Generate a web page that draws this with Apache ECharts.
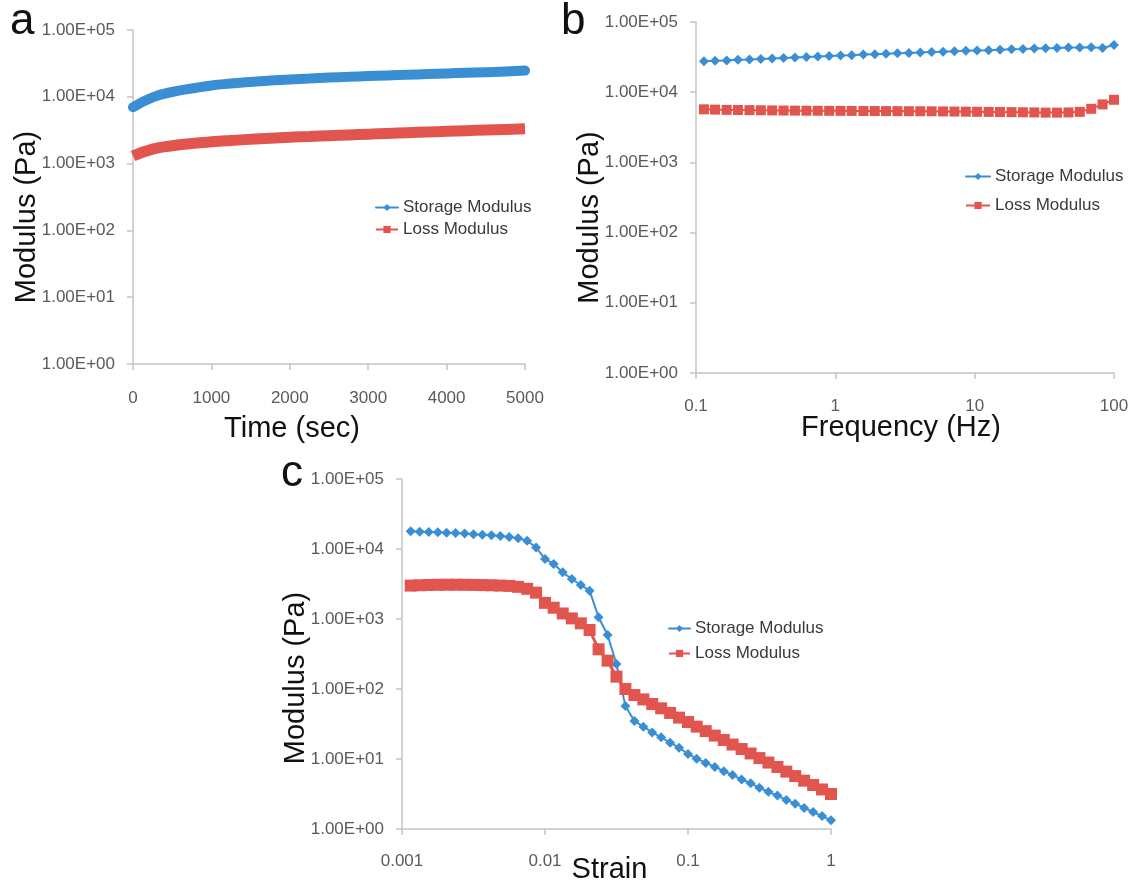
<!DOCTYPE html>
<html>
<head>
<meta charset="utf-8">
<script src="https://cdn.jsdelivr.net/npm/echarts@6/dist/echarts.min.js"></script>
<style>
  html, body { margin: 0; padding: 0; background: #fff; }
  #chart { width: 1136px; height: 886px; }
</style>
</head>
<body>
<div id="chart"></div>
<script>
// panel a : time sweep
var timeSec = [0, 250, 500, 750, 1000, 1250, 1500, 1750, 2000, 2250, 2500, 2750, 3000, 3250, 3500, 3750, 4000, 4250, 4500, 4750, 5000];
var timeStorage = [7000, 9800, 11800, 13300, 14800, 15800, 16700, 17500, 18200, 18800, 19400, 19900, 20400, 20900, 21400, 21900, 22400, 22900, 23400, 23900, 24700];
var timeLoss = [1300, 1650, 1850, 2000, 2120, 2220, 2310, 2400, 2480, 2550, 2620, 2690, 2760, 2830, 2900, 2970, 3040, 3110, 3180, 3250, 3330];

// panel b : frequency sweep
var freqHz = [0.114, 0.137, 0.166, 0.200, 0.242, 0.292, 0.352, 0.425, 0.513, 0.620, 0.748, 0.903, 1.09, 1.31, 1.59, 1.92, 2.31, 2.79, 3.37, 4.07, 4.91, 5.93, 7.16, 8.64, 10.4, 12.6, 15.2, 18.4, 22.2, 26.8, 32.3, 39.0, 47.1, 56.8, 68.6, 82.8, 100];
var freqStorage = [27500, 28000, 28400, 29000, 29300, 29800, 30300, 30700, 31300, 31800, 32200, 32800, 33300, 33700, 34300, 34800, 35200, 35800, 36300, 36700, 37300, 37800, 38200, 38800, 39300, 39700, 40300, 40800, 41200, 41800, 42300, 42700, 43200, 43500, 43700, 42500, 47000];
var freqLoss = [5700, 5650, 5600, 5580, 5550, 5530, 5500, 5480, 5460, 5450, 5440, 5430, 5420, 5410, 5400, 5390, 5380, 5370, 5360, 5350, 5340, 5320, 5300, 5280, 5260, 5240, 5220, 5200, 5180, 5150, 5120, 5120, 5150, 5250, 5800, 6700, 7800];

// panel c : strain sweep
var strain = [0.00115, 0.00133, 0.00154, 0.00178, 0.00205, 0.00237, 0.00274, 0.00316, 0.00365, 0.00422, 0.00487, 0.00562, 0.00649, 0.00750, 0.00866, 0.0100,
  0.0115, 0.0133, 0.0154, 0.0178, 0.0205, 0.0237, 0.0274, 0.0316, 0.0365, 0.0422, 0.0487, 0.0562, 0.0649, 0.0750, 0.0866, 0.100,
  0.115, 0.133, 0.154, 0.178, 0.205, 0.237, 0.274, 0.316, 0.365, 0.422, 0.487, 0.562, 0.649, 0.750, 0.866, 1.00];
var strainStorage = [17900, 17700, 17500, 17300, 17100, 16900, 16600, 16300, 16000, 15700, 15300, 14900, 14300, 13100, 10500, 7200,
  6100, 4640, 3730, 3060, 2540, 1060, 590, 228, 57, 35, 29, 24, 20.4, 17.1, 14.5, 11.8,
  10.1, 8.8, 7.7, 6.7, 5.9, 5.1, 4.5, 3.9, 3.4, 3.0, 2.6, 2.3, 2.0, 1.75, 1.53, 1.33];
var strainLoss = [3000, 3030, 3060, 3080, 3090, 3090, 3080, 3070, 3050, 3030, 3000, 2970, 2880, 2700, 2380, 1700,
  1450, 1200, 1020, 867, 697, 369, 254, 150, 100, 82, 71, 61, 53, 45.5, 39, 33.8,
  29, 25, 21.6, 18.7, 16.1, 13.9, 12, 10.3, 8.9, 7.7, 6.6, 5.7, 4.9, 4.25, 3.67, 3.16];

var blue = '#3a8fd4';
var red = '#e2554f';
var axisGrey = '#c4c4c4';
var labelGrey = '#5a5a5a';
var font = 'Liberation Sans, Arial, sans-serif';

function pairs(xs, ys) {
  var out = [];
  for (var i = 0; i < xs.length; i++) out.push([xs[i], ys[i]]);
  return out;
}

function expLabel(v) {
  var e = Math.round(Math.log10(v));
  return '1.00E+' + (e < 10 ? '0' : '') + e;
}

function plainLabel(v) {
  return String(parseFloat(Number(v).toPrecision(6)));
}

// y title sits a bit below the middle of the axis in the original
function yAxisFor(gridIndex, gap, shift) {
  return {
    gridIndex: gridIndex,
    type: 'log',
    logBase: 10,
    min: 1,
    max: 100000,
    name: 'Modulus (Pa)',
    nameLocation: 'middle',
    nameGap: gap,
    nameMoveOverlap: false,
    nameTextStyle: { fontSize: 29, color: '#111', fontFamily: font, padding: [0, shift * 2, 0, 0] },
    axisLine: { show: true, lineStyle: { color: axisGrey, width: 1.5 } },
    axisTick: { show: true, length: 6, lineStyle: { color: axisGrey, width: 1.5 } },
    minorTick: { show: false },
    splitLine: { show: false },
    axisLabel: { formatter: expLabel, fontSize: 17, color: labelGrey, fontFamily: font, margin: 18 }
  };
}

function xAxisBase(gridIndex, name, gap, labelMargin, shiftLeft) {
  return {
    gridIndex: gridIndex,
    name: name,
    nameLocation: 'middle',
    nameGap: gap,
    nameMoveOverlap: false,
    nameTextStyle: { fontSize: 29, color: '#111', fontFamily: font, padding: [0, shiftLeft * 2, 0, 0] },
    axisLine: { show: true, onZero: false, lineStyle: { color: axisGrey, width: 1.5 } },
    axisTick: { show: true, length: 6, lineStyle: { color: axisGrey, width: 1.5 } },
    splitLine: { show: false },
    axisLabel: { fontSize: 17, color: labelGrey, fontFamily: font, margin: labelMargin, formatter: plainLabel }
  };
}

var xa = xAxisBase(0, 'Time (sec)', 50, 26, 37);
xa.type = 'value'; xa.min = 0; xa.max = 5000; xa.interval = 1000;
var xb = xAxisBase(1, 'Frequency (Hz)', 40, 25, 4);
xb.type = 'log'; xb.logBase = 10; xb.min = 0.1; xb.max = 100;
var xc = xAxisBase(2, 'Strain', 26, 24, 7);
xc.type = 'log'; xc.logBase = 10; xc.min = 0.001; xc.max = 1;

function legendAt(left, top, gap, iconW) {
  return {
    orient: 'vertical',
    left: left,
    top: top,
    itemGap: gap,
    itemWidth: iconW,
    itemHeight: 9,
    data: ['Storage Modulus', 'Loss Modulus'],
    textStyle: { fontSize: 17, color: '#3a3a3a', fontFamily: font }
  };
}

var myChart = echarts.init(document.getElementById('chart'), null, { renderer: 'canvas' });

var option = {
  backgroundColor: '#fff',
  animation: false,
  grid: [
    { left: 133, top: 30, width: 392, height: 334, outerBoundsMode: 'none' },
    { left: 696, top: 22, width: 418, height: 351, outerBoundsMode: 'none' },
    { left: 402, top: 479, width: 429, height: 350, outerBoundsMode: 'none' }
  ],
  xAxis: [xa, xb, xc],
  yAxis: [yAxisFor(0, 92, 20), yAxisFor(1, 92, 20), yAxisFor(2, 92, 24)],
  legend: [
    legendAt(370, 194, 5, 22),
    legendAt(960, 163, 12, 24),
    legendAt(663, 615, 8, 21)
  ],
  graphic: [
    { type: 'text', left: 10, top: 0, style: { text: 'a', fontSize: 44, fill: '#111', fontFamily: font } },
    { type: 'text', left: 561, top: 0, style: { text: 'b', fontSize: 44, fill: '#111', fontFamily: font } },
    { type: 'text', left: 281, top: 452, style: { text: 'c', fontSize: 44, fill: '#111', fontFamily: font } }
  ],
  series: [
    {
      name: 'Storage Modulus', type: 'line', xAxisIndex: 0, yAxisIndex: 0,
      data: pairs(timeSec, timeStorage), smooth: true, symbol: 'diamond', symbolSize: 8, showSymbol: false,
      itemStyle: { color: blue }, lineStyle: { color: blue, width: 10, cap: 'round' }
    },
    {
      name: 'Loss Modulus', type: 'line', xAxisIndex: 0, yAxisIndex: 0,
      data: pairs(timeSec, timeLoss), smooth: true, symbol: 'rect', symbolSize: 9, showSymbol: false,
      itemStyle: { color: red }, lineStyle: { color: red, width: 11, cap: 'butt' }
    },
    {
      name: 'Storage Modulus', type: 'line', xAxisIndex: 1, yAxisIndex: 1,
      data: pairs(freqHz, freqStorage), symbol: 'diamond', symbolSize: 10,
      itemStyle: { color: blue }, lineStyle: { color: blue, width: 2 }
    },
    {
      name: 'Loss Modulus', type: 'line', xAxisIndex: 1, yAxisIndex: 1,
      data: pairs(freqHz, freqLoss), symbol: 'rect', symbolSize: 10,
      itemStyle: { color: red }, lineStyle: { color: red, width: 2 }
    },
    {
      name: 'Storage Modulus', type: 'line', xAxisIndex: 2, yAxisIndex: 2,
      data: pairs(strain, strainStorage), symbol: 'diamond', symbolSize: 10,
      itemStyle: { color: blue }, lineStyle: { color: blue, width: 2 }
    },
    {
      name: 'Loss Modulus', type: 'line', xAxisIndex: 2, yAxisIndex: 2,
      data: pairs(strain, strainLoss), symbol: 'rect', symbolSize: 12,
      itemStyle: { color: red }, lineStyle: { color: red, width: 3 }
    }
  ]
};

myChart.setOption(option);
</script>
</body>
</html>
